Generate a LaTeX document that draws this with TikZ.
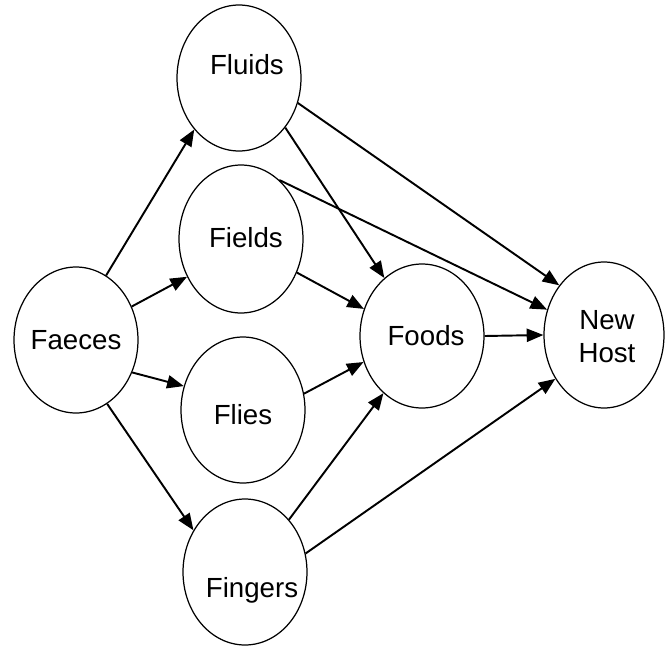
\documentclass[tikz,border=0pt]{standalone}
\usepackage{fontspec}
\setmainfont{Liberation Sans}
\usetikzlibrary{shapes.geometric,arrows.meta}

\tikzset{
  blob/.style={ellipse, draw, line width=0.7pt, inner sep=0pt,
    minimum width=2.48cm, minimum height=2.92cm},
  word/.style={font=\fontsize{15.75pt}{18.7pt}\selectfont, align=center, inner sep=0pt},
  flow/.style={line width=1.1pt, -{Triangle[length=9.5pt,width=7.5pt]}}
}

\begin{document}
\begin{tikzpicture}[x=0.02cm, y=-0.02cm]
\useasboundingbox (0,0) rectangle (666,646);

% stages of faecal-oral transmission
\node[blob, label={[word]center:Faeces}] (faeces) at (76,340) {};
\node[blob, label={[word, xshift=4.5pt, yshift=7.4pt]center:Fluids}] (fluids) at (239,78) {};
\node[blob, minimum height=2.96cm, label={[word, xshift=2.8pt, yshift=1pt]center:Fields}] (fields) at (241,239) {};
\node[blob, label={[word, yshift=-2.8pt]center:Flies}] (flies) at (243,410) {};
\node[blob, label={[word, xshift=4pt, yshift=-10.2pt]center:Fingers}] (fingers) at (245,572) {};
\node[blob, minimum height=2.88cm, label={[word, xshift=2.3pt]center:Foods}] (foods) at (422,336) {};
\node[blob, minimum width=2.4cm, label={[word, xshift=1.7pt, yshift=-0.8pt]center:New\\Host}] (host) at (604,335) {};

% routes from faeces
\draw[flow] (faeces.65)  -- (fluids.229);
\draw[flow] (faeces.31)  -- (fields.215);
\draw[flow] (faeces.-30) -- (flies.158);
\draw[flow] (faeces.-64) -- (fingers.141);

% routes to foods
\draw[flow] (fluids.-47) -- (foods.123);
\draw[flow] (fields.-31) -- (foods.155);
\draw[flow] (flies.15)   -- (foods.204);
\draw[flow] (fingers.50) -- (foods.236);

% routes to the new host
\draw[flow] (fluids.-23) -- (host.132);
\draw[flow] (fields.57)  -- (host.156);
\draw[flow] (foods.0)    -- (host.180);
\draw[flow] (fingers.17) -- (host.222);
\end{tikzpicture}
\end{document}
